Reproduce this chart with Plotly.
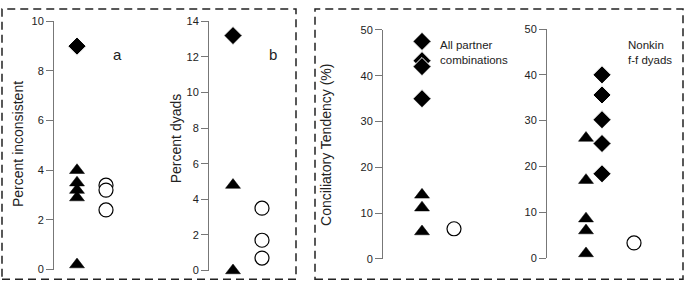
import plotly.graph_objects as go

W, H = 685, 288

# ---- data ----
# Panel a: Percent inconsistent
a_diamond = [9.0]
a_triangle = [4.0, 3.5, 3.2, 2.9, 0.2]
a_circle = [3.4, 3.2, 2.4]
# Panel b: Percent dyads
b_diamond = [13.2]
b_triangle = [4.8, 0.0]
b_circle = [3.5, 1.7, 0.7]
# Panel c: Conciliatory tendency, all partner combinations
c_diamond = [47.5, 43.3, 42.0, 35.0]
c_triangle = [14.0, 11.2, 6.0]
c_circle = [6.6]
# Panel d: Nonkin f-f dyads
d_triangle = [26.2, 17.0, 8.6, 6.0, 1.0]
d_diamond = [40.0, 35.6, 30.2, 25.0, 18.4]
d_circle = [3.3]

# group positions (index along x)
a_pos = {"tri": 1, "dia": 1, "circ": 2}
b_pos = {"tri": 1, "dia": 1, "circ": 2}
c_pos = {"tri": 1, "dia": 1, "circ": 2}
d_pos = {"tri": 1, "dia": 1.5, "circ": 2.5}

y_ranges = [[0, 10], [0, 14], [0, 50], [0, 50]]
y_ticks = [[0, 2, 4, 6, 8, 10], [0, 2, 4, 6, 8, 10, 12, 14],
           [0, 10, 20, 30, 40, 50], [0, 10, 20, 30, 40, 50]]

# ---- layout geometry (pixels) ----
# (axis_px, first_group_px, unit_px, right_px, y0_px, ytop_px)
geo = [
    (54, 77, 29, 150, 275, 16),
    (209, 233, 29, 292, 276, 16),
    (383, 422, 32, 500, 264, 25),
    (547, 586, 32, 680, 263, 24),
]

fig = go.Figure()
FONT = "Liberation Sans, Arial, Helvetica, sans-serif"

def add(panel, xs, ys, sym, size, color, line_color, line_w):
    k = "" if panel == 0 else str(panel + 1)
    fig.add_trace(go.Scatter(
        x=xs, y=ys, mode="markers", xaxis="x" + k, yaxis="y" + k,
        marker=dict(symbol=sym, size=size, color=color,
                    line=dict(color=line_color, width=line_w)),
        cliponaxis=False, showlegend=False, hoverinfo="y"))

panels = [
    (a_pos, a_diamond, a_triangle, a_circle),
    (b_pos, b_diamond, b_triangle, b_circle),
    (c_pos, c_diamond, c_triangle, c_circle),
    (d_pos, d_diamond, d_triangle, d_circle),
]
for i, (pos, dia, tri, circ) in enumerate(panels):
    add(i, [pos["tri"]] * len(tri), tri, "triangle-up", 13, "black", "black", 0.5)
    add(i, [pos["dia"]] * len(dia), dia, "diamond", 14, "black", "white", 1)
    add(i, [pos["circ"]] * len(circ), circ, "circle", 14, "white", "black", 1.2)

layout = dict(width=W, height=H, margin=dict(l=0, r=0, t=0, b=0),
              paper_bgcolor="white", plot_bgcolor="white",
              font=dict(family=FONT, size=11, color="#222"))
for i, (ax, g1, unit, right, y0, yt) in enumerate(geo):
    k = "" if i == 0 else str(i + 1)
    xr0 = 1 - (g1 - ax) / unit
    xr1 = 1 + (right - g1) / unit
    layout["xaxis" + k] = dict(domain=[ax / W, right / W], range=[xr0, xr1],
                               visible=False, fixedrange=True,
                               anchor="y" + k)
    layout["yaxis" + k] = dict(domain=[(H - y0) / H, (H - yt) / H],
                               range=y_ranges[i], tickvals=y_ticks[i],
                               showline=True, linecolor="#777", linewidth=1,
                               ticks="outside", ticklen=7, tickcolor="#777",
                               showgrid=False, zeroline=False,
                               tickfont=dict(size=11, color="#222"),
                               anchor="x" + k, fixedrange=True)
fig.update_layout(**layout)

# dashed frames
for x0, x1 in [(2, 296), (315, 683)]:
    fig.add_shape(type="rect", xref="paper", yref="paper",
                  x0=x0 / W, x1=x1 / W, y0=(H - 285) / H, y1=(H - 3) / H,
                  line=dict(color="#222", width=1.5, dash="8px,5px"))

def ann(text, xpx, ypx, size, angle=0, xanchor="center", yanchor="middle", align="center"):
    fig.add_annotation(text=text, x=xpx / W, y=(H - ypx) / H, xref="paper", yref="paper",
                       showarrow=False, textangle=angle, xanchor=xanchor,
                       yanchor=yanchor, align=align,
                       font=dict(family=FONT, size=size, color="#222"))

ann("Percent inconsistent", 18, 144, 14, angle=-90)
ann("Percent dyads", 176, 138, 14, angle=-90)
ann("Conciliatory Tendency (%)", 326, 145, 14, angle=-90)
ann("a", 117, 51, 15)
ann("b", 273, 51, 15)
ann("All partner<br>combinations", 438, 49, 11.5, xanchor="left", align="left")
ann("Nonkin<br>f-f dyads", 626, 49, 11.5, xanchor="left", align="left")

fig.write_html("out.html", config={"displayModeBar": False},
               post_script="document.body.style.margin='0';document.body.style.overflow='hidden';")
